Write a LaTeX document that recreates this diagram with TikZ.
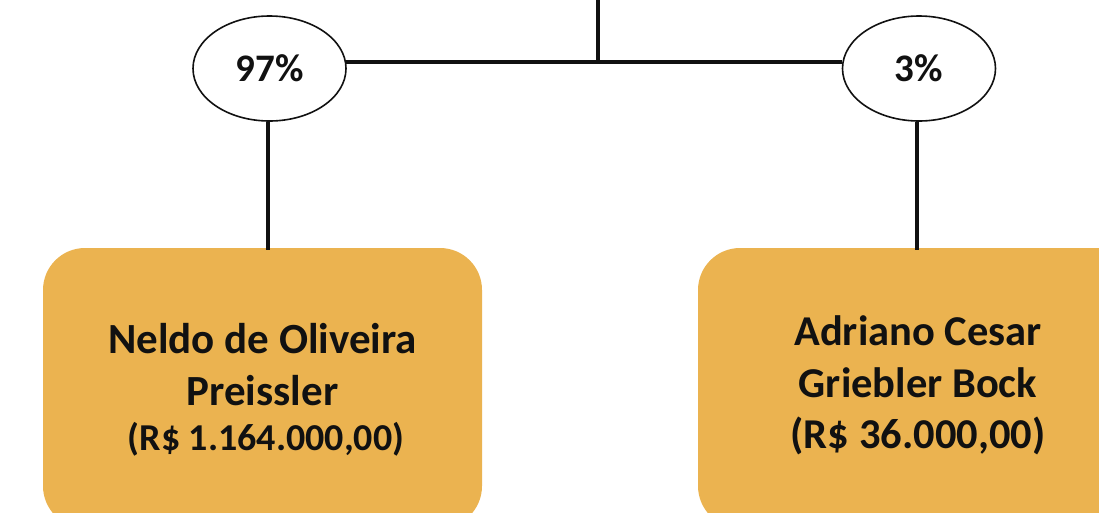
\documentclass[tikz,border=0pt]{standalone}
\usepackage{fontspec}
\setmainfont{Carlito}
\usetikzlibrary{shapes.geometric}
\definecolor{boxfill}{HTML}{EBB350}
\definecolor{ink}{HTML}{111111}
\tikzset{
  pct/.style={ellipse,draw=ink,line width=1.6pt,fill=white,minimum width=153pt,minimum height=105pt,inner sep=0pt,font=\fontsize{39}{45}\selectfont\bfseries,text=ink},
  person/.style={rounded corners=42pt,fill=boxfill,draw=none},
  conn/.style={draw=ink,line width=3.6pt},
  line1/.style={anchor=base,inner sep=0pt,font=\fontsize{43}{45}\selectfont\bfseries,text=ink},
  line1s/.style={anchor=base,inner sep=0pt,font=\fontsize{38}{45}\selectfont\bfseries,text=ink},
  line2/.style={anchor=base,inner sep=0pt,font=\fontsize{42.5}{45}\selectfont\bfseries,text=ink}
}
\begin{document}
\begin{tikzpicture}[x=1pt,y=-1pt]
\useasboundingbox (0,0) rectangle (1099,512);
\clip (0,0) rectangle (1099,512);
% boxes
\fill[person] (43,248) rectangle (482,528);
\fill[person] (698,248) rectangle (1137,528);
\coordinate (b1top) at (268,250);
\coordinate (b2top) at (917,250);
% ellipses
\node[pct] (e1) at (269.5,68.5) {97\%};
\node[pct] (e2) at (919,68.5) {3\%};
\coordinate (top) at (598,-2);
% connectors
\draw[conn] (top) -- (top |- e1.5);
\draw[conn] (e1.5) -- (e2.175);
\draw[conn] (e1.south -| b1top) -- (b1top);
\draw[conn] (e2.south -| b2top) -- (b2top);
% texts
\node[line1] (t11) at (262.5,353) {Neldo de Oliveira};
\node[line1] (t12) at (262.5,405) {Preissler};
\node[line1s] (t13) at (266,450) {(R\$ 1.164.000,00)};
\node[line2] (t21) at (918,345) {Adriano Cesar};
\node[line2] (t22) at (918,397) {Griebler Bock};
\node[line2] (t23) at (918,448) {(R\$ 36.000,00)};
\end{tikzpicture}
\end{document}
